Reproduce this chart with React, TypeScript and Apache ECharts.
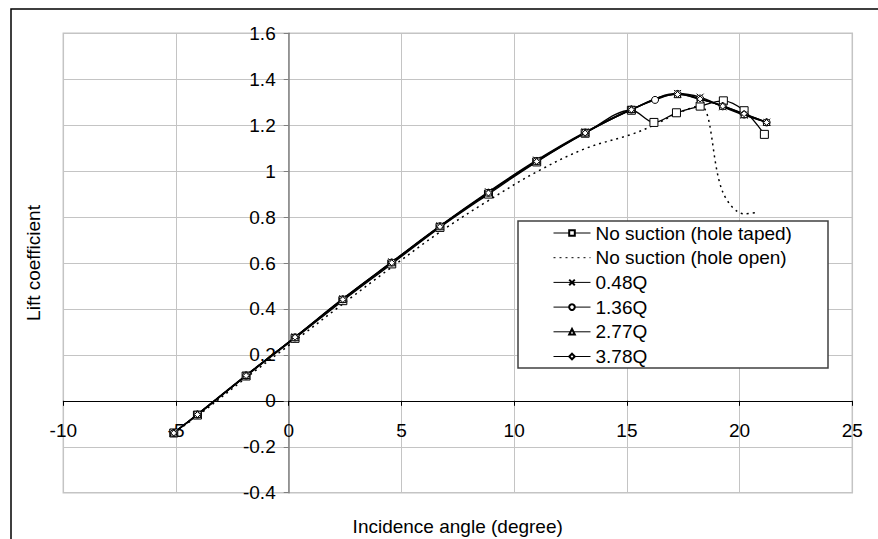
import React, { useEffect, useRef } from "react";
import * as echarts from "echarts";

// ---- data ----
const xTaped = [-5.1, -4.05, -1.89, 0.28, 2.4, 4.57, 6.71, 8.86, 11.0, 13.15, 15.2, 16.2, 17.2, 18.25, 19.28, 20.2, 21.1];
const yTaped = [-0.14, -0.062, 0.108, 0.272, 0.436, 0.596, 0.755, 0.9, 1.04, 1.165, 1.265, 1.212, 1.254, 1.283, 1.306, 1.263, 1.16];

const xOpen = [-5.1, -4.05, -1.89, 0.28, 2.4, 4.57, 6.71, 8.86, 11.0, 13.15, 15.2, 16.2, 17.2, 18.25, 19.25, 20.2, 20.8];
const yOpen = [-0.14, -0.066, 0.1, 0.262, 0.422, 0.582, 0.735, 0.872, 0.997, 1.098, 1.16, 1.2, 1.25, 1.285, 0.91, 0.814, 0.82];

const xQ = [-5.1, -4.05, -1.89, 0.28, 2.4, 4.57, 6.71, 8.86, 11.0, 13.15, 15.2, 17.25, 18.25, 19.25, 20.2, 21.2];
const xQ136 = [-5.1, -4.05, -1.89, 0.28, 2.4, 4.57, 6.71, 8.86, 11.0, 13.15, 15.2, 16.25, 17.25, 18.25, 19.25, 20.2, 21.2];
const yQ048 = [-0.14, -0.06, 0.11, 0.278, 0.445, 0.605, 0.762, 0.91, 1.048, 1.17, 1.268, 1.338, 1.322, 1.28, 1.244, 1.213];
const yQ136 = [-0.14, -0.06, 0.11, 0.276, 0.442, 0.602, 0.76, 0.906, 1.044, 1.168, 1.268, 1.31, 1.336, 1.316, 1.282, 1.246, 1.212];
const yQ277 = [-0.138, -0.058, 0.112, 0.277, 0.443, 0.603, 0.76, 0.907, 1.045, 1.168, 1.27, 1.335, 1.312, 1.285, 1.248, 1.214];
const yQ378 = [-0.14, -0.06, 0.11, 0.277, 0.441, 0.601, 0.758, 0.905, 1.042, 1.166, 1.267, 1.334, 1.314, 1.283, 1.25, 1.212];

const seriesNames = [
  "No suction (hole taped)",
  "No suction (hole open)",
  "0.48Q",
  "1.36Q",
  "2.77Q",
  "3.78Q",
];

const xTitle = "Incidence angle (degree)";
const yTitle = "Lift coefficient";

const FONT = "'Liberation Sans', Arial, Helvetica, sans-serif";

const pairs = (xs: number[], ys: number[]) => xs.map((x, i) => [x, ys[i]]);

// plot box in pixels
const GL = 63.3;
const GT = 33.3;
const GR = 852.3;
const GB = 492.7;
const X_MIN = -10;
const X_MAX = 25;
const Y_MIN = -0.4;
const Y_MAX = 1.6;

export default function App() {
  const ref = useRef<HTMLDivElement>(null);
  useEffect(() => {
    if (!ref.current) return;
    const chart = echarts.init(ref.current, null, { renderer: "svg" });
    const zeroY = GT + ((Y_MAX - 0) / (Y_MAX - Y_MIN)) * (GB - GT);
    const zeroX = GL + ((0 - X_MIN) / (X_MAX - X_MIN)) * (GR - GL);
    const mk = (
      name: string,
      data: number[][],
      symbol: string,
      symbolSize: number,
      dashed = false
    ) => ({
      name,
      type: "line",
      data,
      smooth: 0.35,
      symbol,
      symbolSize,
      showSymbol: !dashed,
      lineStyle: {
        color: "#000",
        width: dashed ? 1.5 : 1.3,
        type: dashed ? [2, 4] : "solid",
      },
      itemStyle: dashed
        ? { color: "rgba(0,0,0,0)", borderColor: "rgba(0,0,0,0)", borderWidth: 0 }
        : { color: "#fff", borderColor: "#000", borderWidth: 1 },
      emphasis: { disabled: true },
      z: 2,
    });
    chart.setOption({
      animation: false,
      textStyle: { fontFamily: FONT },
      grid: {
        left: GL,
        top: GT,
        right: 878 - GR,
        bottom: 539 - GB,
        show: true,
        borderColor: "#c4c4c4",
        borderWidth: 1.5,
        backgroundColor: "transparent",
      },
      xAxis: {
        type: "value",
        min: X_MIN,
        max: X_MAX,
        interval: 5,
        offset: -(GB - zeroY),
        axisLine: { onZero: false, lineStyle: { color: "#000", width: 1 } },
        axisTick: { show: true, length: 5, lineStyle: { color: "#000" } },
        axisLabel: { color: "#000", fontSize: 19, fontFamily: FONT, margin: 20 },
        splitLine: { show: true, lineStyle: { color: "#c4c4c4", width: 1 } },
      },
      yAxis: {
        type: "value",
        min: Y_MIN,
        max: Y_MAX,
        interval: 0.2,
        offset: -(zeroX - GL),
        axisLine: { onZero: false, lineStyle: { color: "#808080", width: 1.5 } },
        axisTick: { show: true, length: 5, lineStyle: { color: "#808080" } },
        axisLabel: {
          color: "#000",
          fontSize: 19,
          fontFamily: FONT,
          margin: 13,
          formatter: (v: number) => String(Math.round(v * 10) / 10),
        },
        splitLine: { show: true, lineStyle: { color: "#c4c4c4", width: 1 } },
      },
      legend: {
        show: true,
        orient: "vertical",
        left: 553,
        top: 223.5,
        padding: 0,
        itemWidth: 37,
        itemHeight: 7,
        itemGap: 5.7,
        lineStyle: { width: 1 },
        textStyle: { fontSize: 19, color: "#000", fontFamily: FONT, lineHeight: 19 },
        data: seriesNames,
        z: 5,
      },
      graphic: {
        elements: [
          {
            type: "rect",
            shape: { x: 11, y: 9, width: 900, height: 600 },
            style: { fill: "none", stroke: "#000", lineWidth: 1.5 },
            z: -1,
            silent: true,
          },
          {
            type: "rect",
            shape: { x: 518, y: 221, width: 310, height: 147 },
            style: { fill: "#fff", stroke: "#404040", lineWidth: 1.5 },
            z: 4,
            silent: true,
          },
          {
            type: "text",
            x: 33,
            y: 263,
            rotation: Math.PI / 2,
            style: {
              text: yTitle,
              fontSize: 19,
              fontFamily: FONT,
              fill: "#000",
              align: "center",
              verticalAlign: "middle",
            },
            z: 5,
          },
          {
            type: "text",
            x: 457.7,
            y: 526,
            style: {
              text: xTitle,
              fontSize: 19,
              fontFamily: FONT,
              fill: "#000",
              align: "center",
              verticalAlign: "middle",
            },
            z: 5,
          },
        ],
      },
      series: [
        mk(seriesNames[0], pairs(xTaped, yTaped), "rect", 8),
        mk(seriesNames[1], pairs(xOpen, yOpen), "circle", 2, true),
        mk(seriesNames[2], pairs(xQ, yQ048), "path://M0,0L10,10M10,0L0,10", 7),
        mk(seriesNames[3], pairs(xQ136, yQ136), "circle", 7),
        mk(seriesNames[4], pairs(xQ, yQ277), "triangle", 7),
        mk(seriesNames[5], pairs(xQ, yQ378), "diamond", 6),
      ],
    });
    return () => chart.dispose();
  }, []);
  return (
    <div
      ref={ref}
      style={{ position: "absolute", left: 0, top: 0, width: 878, height: 539 }}
    />
  );
}
